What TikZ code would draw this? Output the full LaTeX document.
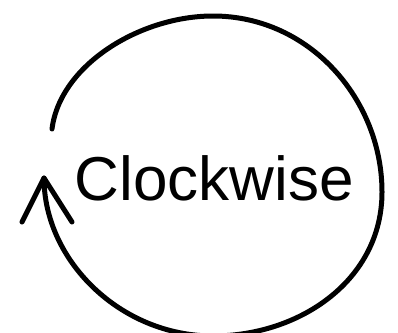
\documentclass[tikz,border=0pt]{standalone}
\usepackage{fontspec}
\setmainfont{Liberation Sans}
\begin{document}
\begin{tikzpicture}[x=1pt,y=-1pt,
  stroke/.style={line width=5pt,line cap=round,line join=round},
  label/.style={font=\fontsize{62}{62}\selectfont,inner sep=0pt,anchor=base}]
\useasboundingbox (0,0) rectangle (398,332);
\node[label] (txt) at (214.5,200) {Clockwise};
\coordinate (start) at (52,129);
\coordinate (top) at (213,16);
\coordinate (right) at (382,192);
\coordinate (bottom) at (213,336);
\coordinate (tip) at (44,178);
\coordinate (legL) at (22,222);
\coordinate (legR) at (72,222);
\draw[stroke] (start) .. controls (60,65) and (140,16) .. (top)
  .. controls (310,16) and (382,100) .. (right)
  .. controls (382,280) and (300,336) .. (bottom)
  .. controls (120,336) and (44,260) .. (tip);
\draw[stroke] (legL) -- (tip) -- (legR);
\end{tikzpicture}
\end{document}
